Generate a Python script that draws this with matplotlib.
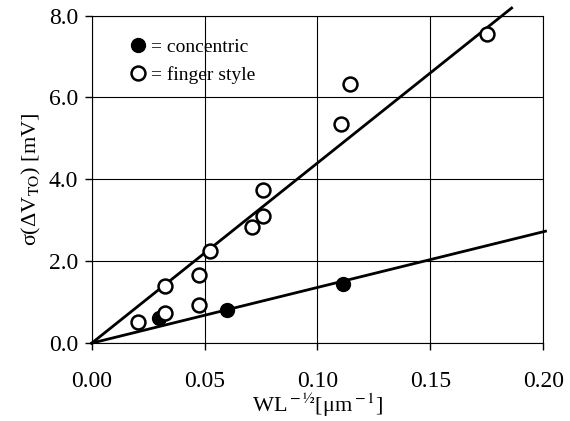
import numpy as np
import matplotlib.pyplot as plt

plt.rcParams['font.family'] = ['Liberation Serif', 'DejaVu Serif']
plt.rcParams['mathtext.fontset'] = 'stix'

# concentric devices (filled)
conc_x = [0.030, 0.060, 0.1115]
conc_y = [0.62, 0.82, 1.45]

# finger style devices (open)
fing_x = [0.0204, 0.0326, 0.0326, 0.0475, 0.0475, 0.0522, 0.0709, 0.0758, 0.0758, 0.1105, 0.1142, 0.175]
fing_y = [0.52, 1.40, 0.73, 1.67, 0.93, 2.25, 2.83, 3.10, 3.75, 5.35, 6.34, 7.56]

# fit lines through the origin
fing_slope = 44.0
conc_slope = 13.6
fing_line_x = np.array([0.0, 0.186])
conc_line_x = np.array([0.0, 0.201])

fig = plt.figure(figsize=(5.70, 4.21), dpi=100)
ax = fig.add_axes([0.161, 0.185, 0.792, 0.778])

ax.plot(fing_line_x, fing_slope * fing_line_x, color='black', lw=2.0, clip_on=False, zorder=3)
ax.plot(conc_line_x, conc_slope * conc_line_x, color='black', lw=2.0, clip_on=False, zorder=3)

ax.plot(conc_x, conc_y, 'o', ms=10, color='black', ls='none',
        label='= concentric', zorder=4)
ax.plot(fing_x, fing_y, 'o', ms=10, mfc='white', mec='black', mew=1.8, ls='none',
        label='= finger style', zorder=4)

ax.set_xlim(0, 0.20)
ax.set_ylim(0, 8.0)
ax.set_xticks([0.00, 0.05, 0.10, 0.15, 0.20])
ax.set_xticklabels(['0.00', '0.05', '0.10', '0.15', '0.20'])
ax.set_yticks([0.0, 2.0, 4.0, 6.0, 8.0])
ax.set_yticklabels(['0.0', '2.0', '4.0', '6.0', '8.0'])
ax.tick_params(direction='out', length=5, width=1, labelsize=17)
ax.tick_params(axis='x', pad=15)
ax.tick_params(axis='y', pad=5)
ax.grid(True, color='black', lw=0.8)
ax.set_axisbelow(True)
for s in ax.spines.values():
    s.set_linewidth(0.8)

ax.set_xlabel(r'WL$^{\rm -½}$[μm$^{\rm -1}$]', fontsize=16, labelpad=0)
ax.set_ylabel(r'σ(ΔV$_{\rm TO}$) [mV]', fontsize=16, labelpad=4)

ax.legend(loc='upper left', bbox_to_anchor=(0.072, 0.955), frameon=False, fontsize=14,
          handlelength=0.6, handletextpad=0.4, labelspacing=0.55, borderaxespad=0)

fig.savefig('out.png', dpi=100)
